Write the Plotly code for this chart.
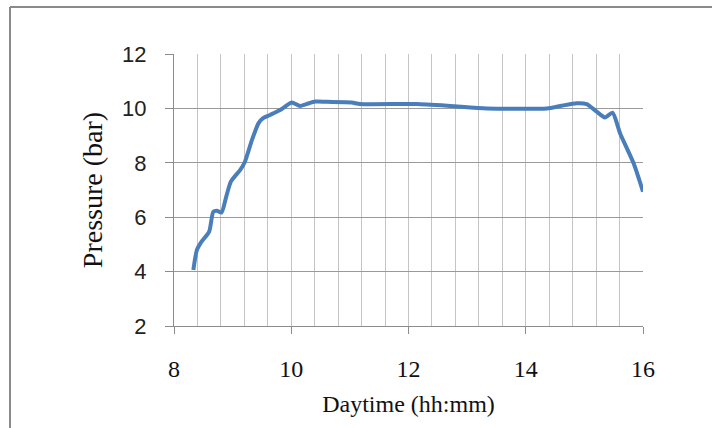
import plotly.graph_objects as go

# Time of day (hours) and pressure (bar)
time_h = [8.33, 8.39, 8.47, 8.60, 8.67, 8.73, 8.81, 8.89, 8.97, 9.13, 9.21, 9.33,
          9.44, 9.52, 9.64, 9.81, 9.91, 10.01, 10.15, 10.26, 10.41, 10.61, 11.03,
          11.17, 11.86, 12.14, 12.71, 13.34, 14.36, 14.59, 14.87, 15.04, 15.21,
          15.35, 15.48, 15.61, 15.84, 16.0]
pressure_bar = [4.06, 4.79, 5.10, 5.47, 6.20, 6.24, 6.17, 6.75, 7.31, 7.74, 8.04, 8.84,
                9.45, 9.64, 9.76, 9.94, 10.09, 10.22, 10.09, 10.16, 10.25, 10.24, 10.22,
                10.16, 10.16, 10.16, 10.09, 10.00, 10.00, 10.09, 10.19, 10.16, 9.88,
                9.67, 9.84, 9.08, 7.98, 6.94]

x_ticks = [8, 10, 12, 14, 16]
y_ticks = [2, 4, 6, 8, 10, 12]

W, H = 712, 428
L, R, T, B = 174, 69, 54, 102
pw, ph = W - L - R, H - T - B

def px_to_paper_x(px):
    return (px - L) / pw

def px_to_paper_y(py):
    return (H - B - py) / ph

fig = go.Figure()
fig.add_trace(go.Scatter(
    x=time_h, y=pressure_bar, mode="lines",
    line=dict(color="#4A7EBB", width=4, shape="spline", smoothing=0.6),
    showlegend=False, hoverinfo="skip"))

fig.update_layout(
    width=W, height=H,
    margin=dict(l=L, r=R, t=T, b=B, pad=0),
    paper_bgcolor="white", plot_bgcolor="white",
    xaxis=dict(
        range=[8, 16], tickmode="array", tickvals=x_ticks,
        ticktext=[str(v) for v in x_ticks],
        showgrid=True, gridcolor="#C4C4C4", gridwidth=1,
        minor=dict(dtick=0.4, tick0=8, showgrid=True, gridcolor="#C4C4C4", gridwidth=1,
                   ticks=""),
        ticks="outside", ticklen=7, tickcolor="#8C8C8C", tickwidth=1,
        showline=True, linecolor="#8C8C8C", linewidth=1,
        zeroline=False,
        tickfont=dict(family="Liberation Serif", size=24, color="#111111"),
        ticklabelstandoff=14,
        title=dict(text="Daytime (hh:mm)", standoff=14,
                   font=dict(family="Liberation Serif", size=24, color="#111111")),
    ),
    yaxis=dict(
        range=[2, 12], tickmode="array", tickvals=y_ticks,
        ticktext=[str(v) for v in y_ticks],
        showgrid=True, gridcolor="#9A9A9A", gridwidth=1,
        ticks="outside", ticklen=8, tickcolor="#8C8C8C", tickwidth=1,
        showline=True, linecolor="#8C8C8C", linewidth=1,
        zeroline=False,
        tickfont=dict(family="Liberation Sans", size=22, color="#222222"),
        ticklabelstandoff=14,
        title=dict(text="Pressure (bar)", standoff=11,
                   font=dict(family="Liberation Serif", size=28, color="#111111")),
    ),
    shapes=[
        dict(type="line", xref="paper", yref="paper",
             x0=px_to_paper_x(10), x1=px_to_paper_x(10),
             y0=px_to_paper_y(7), y1=px_to_paper_y(430),
             line=dict(color="#8A8A8A", width=2)),
        dict(type="line", xref="paper", yref="paper",
             x0=px_to_paper_x(10), x1=px_to_paper_x(714),
             y0=px_to_paper_y(7), y1=px_to_paper_y(7),
             line=dict(color="#8A8A8A", width=2)),
    ],
)

fig.write_html("out.html", config={"displayModeBar": False},
               post_script="document.body.style.margin='0px';document.body.style.overflow='hidden';")
